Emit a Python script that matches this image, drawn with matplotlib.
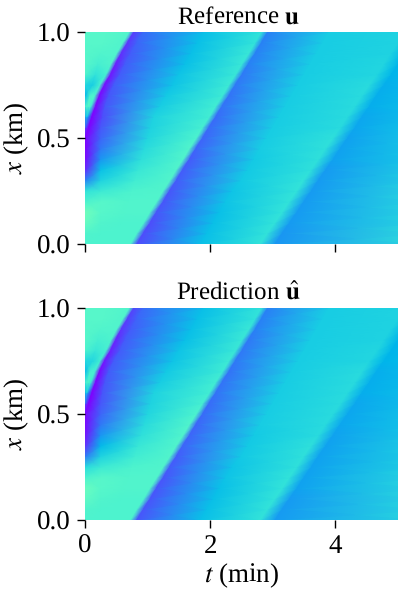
import numpy as np
import matplotlib
matplotlib.use('Agg')
import matplotlib.pyplot as plt

plt.rcParams['font.family'] = ['Liberation Serif', 'DejaVu Serif']
plt.rcParams['mathtext.fontset'] = 'stix'
plt.rcParams['text.hinting'] = 'no_hinting'
plt.rcParams['text.hinting_factor'] = 1

# distance levels (km)
x_levels = [0.00, 0.05, 0.10, 0.15, 0.20, 0.25, 0.30, 0.35, 0.40, 0.45, 0.50,
            0.55, 0.60, 0.65, 0.70, 0.75, 0.80, 0.85, 0.90, 0.95, 1.00]

t_knots = [
    [0, 0, 0, 0, .25, .50, .73, .83, 1.85, 2.80, 3.04, 5.5],
    [0, 0, 0, 0, .25, .55, .83, .93, 1.95, 2.91, 3.15, 5.5],
    [0, 0, 0, 0, .25, .60, .94, 1.04, 2.05, 3.03, 3.27, 5.5],
    [0, 0, 0, 0, .25, .65, 1.04, 1.14, 2.15, 3.15, 3.39, 5.5],
    [0, 0, 0, 0, .25, .70, 1.15, 1.25, 2.25, 3.26, 3.50, 5.5],
    [0, 0, 0, 0, .25, .75, 1.25, 1.35, 2.35, 3.38, 3.62, 5.5],
    [0, 0, 0, 0, .25, .80, 1.36, 1.46, 2.50, 3.49, 3.73, 5.5],
    [0, 0, 0, 0, .25, .85, 1.46, 1.56, 2.60, 3.61, 3.85, 5.5],
    [0, 0, 0, 0, .25, .90, 1.57, 1.67, 2.70, 3.73, 3.97, 5.5],
    [0, 0, 0, 0, .25, .95, 1.67, 1.77, 2.80, 3.84, 4.08, 5.5],
    [0, 0, 0, 0, .25, 1.0, 1.78, 1.88, 2.90, 3.96, 4.20, 5.5],
    [0, .01, .02, .06, .25, 1.05, 1.88, 1.98, 3.0, 4.08, 4.32, 5.5],
    [0, .03, .05, .11, .28, 1.1, 1.99, 2.09, 3.1, 4.19, 4.43, 5.5],
    [0, .05, .10, .17, .32, 1.2, 2.09, 2.19, 3.2, 4.31, 4.55, 5.5],
    [0, .08, .16, .23, .38, 1.3, 2.20, 2.30, 3.3, 4.42, 4.66, 5.5],
    [0, .12, .24, .31, .46, 1.4, 2.30, 2.40, 3.4, 4.54, 4.78, 5.5],
    [0, .17, .34, .41, .56, 1.5, 2.41, 2.51, 3.5, 4.66, 4.90, 5.5],
    [0, .21, .42, .49, .64, 1.6, 2.51, 2.61, 3.6, 4.77, 5.01, 5.5],
    [0, .25, .51, .58, .73, 1.7, 2.62, 2.72, 3.7, 4.88, 5.12, 5.5],
    [0, .30, .61, .68, .83, 1.8, 2.72, 2.82, 3.8, 5.0, 5.24, 5.5],
    [0, .35, .71, .78, .93, 1.9, 2.82, 2.92, 3.9, 5.12, 5.36, 5.5],
]

# reference field at those knots
u_ref = [
    [.40, .40, .40, .40, .40, .40, .40, .10, .27, .35, .20, .34],
    [.41, .41, .41, .41, .40, .40, .40, .10, .27, .35, .20, .34],
    [.45, .45, .45, .45, .41, .40, .40, .10, .27, .35, .21, .33],
    [.47, .47, .47, .47, .42, .41, .41, .11, .27, .35, .21, .33],
    [.40, .40, .40, .40, .42, .41, .41, .11, .28, .35, .21, .33],
    [.35, .35, .35, .35, .37, .40, .41, .11, .28, .35, .21, .33],
    [.17, .17, .17, .17, .31, .38, .41, .12, .29, .35, .21, .32],
    [.05, .05, .05, .05, .27, .36, .41, .12, .29, .34, .21, .31],
    [.01, .01, .01, .01, .20, .34, .41, .12, .29, .34, .22, .30],
    [.00, .00, .00, .00, .16, .33, .41, .13, .30, .34, .22, .30],
    [.00, .00, .00, .00, .13, .32, .40, .13, .30, .34, .22, .30],
    [.10, .10, .08, .00, .11, .31, .39, .14, .30, .33, .23, .29],
    [.22, .28, .20, .00, .10, .31, .38, .14, .30, .33, .23, .28],
    [.38, .42, .38, .01, .11, .30, .38, .15, .30, .33, .24, .28],
    [.25, .40, .40, .01, .11, .29, .37, .15, .30, .33, .24, .27],
    [.32, .30, .39, .02, .12, .28, .37, .16, .30, .33, .24, .27],
    [.41, .35, .39, .03, .12, .28, .36, .16, .30, .32, .25, .27],
    [.42, .39, .41, .04, .12, .27, .36, .17, .30, .32, .25, .27],
    [.42, .41, .41, .06, .12, .27, .36, .17, .30, .31, .25, .26],
    [.42, .42, .41, .07, .13, .27, .35, .17, .30, .31, .25, .26],
    [.42, .42, .41, .08, .14, .27, .35, .17, .30, .31, .26, .26],
]

# predicted field at the same knots
u_pred = [
    [.40, .40, .40, .40, .40, .40, .40, .11, .27, .35, .21, .33],
    [.41, .41, .41, .41, .40, .40, .40, .11, .27, .35, .21, .33],
    [.44, .44, .44, .44, .41, .40, .40, .11, .27, .35, .21, .33],
    [.46, .46, .46, .46, .42, .41, .41, .11, .27, .35, .22, .33],
    [.40, .40, .40, .40, .42, .41, .41, .11, .28, .35, .22, .33],
    [.33, .33, .33, .33, .37, .40, .41, .12, .28, .34, .22, .32],
    [.16, .16, .16, .16, .31, .38, .41, .12, .29, .34, .22, .31],
    [.06, .06, .06, .06, .26, .36, .41, .13, .29, .34, .22, .31],
    [.02, .02, .02, .02, .20, .34, .41, .13, .29, .33, .22, .30],
    [.01, .01, .01, .01, .16, .33, .41, .13, .30, .33, .23, .29],
    [.01, .01, .01, .01, .13, .32, .40, .14, .30, .33, .23, .29],
    [.12, .12, .08, .00, .11, .31, .39, .14, .30, .33, .23, .28],
    [.25, .30, .20, .00, .11, .31, .38, .15, .30, .33, .24, .28],
    [.38, .41, .37, .01, .11, .30, .38, .15, .30, .33, .24, .27],
    [.26, .39, .39, .01, .12, .29, .37, .15, .30, .33, .24, .27],
    [.32, .32, .38, .03, .12, .28, .37, .16, .30, .32, .25, .27],
    [.40, .36, .39, .04, .12, .28, .36, .16, .30, .32, .25, .27],
    [.42, .39, .40, .05, .12, .27, .36, .16, .30, .31, .25, .27],
    [.42, .41, .41, .07, .12, .27, .36, .17, .30, .31, .25, .26],
    [.42, .42, .41, .08, .13, .27, .35, .17, .30, .31, .25, .26],
    [.42, .42, .41, .09, .14, .27, .35, .17, .30, .31, .26, .26],
]

titles = [r'Reference $\mathbf{u}$', r'Prediction $\hat{\mathbf{u}}$']
fields = [u_ref, u_pred]
t_ticks = [0, 2, 4]
x_ticks = [0.0, 0.5, 1.0]

T = np.array(t_knots)
X = np.repeat(np.array(x_levels)[:, None], T.shape[1], axis=1)

fig = plt.figure(figsize=(3.98, 5.95), dpi=100)
ax_top = fig.add_axes([85/398, 1 - 244/595, 313/398, 212/595])
ax_bot = fig.add_axes([85/398, 1 - 520/595, 313/398, 212/595])

for ax, field, title in zip([ax_top, ax_bot], fields, titles):
    ax.pcolormesh(T, X, np.array(field), shading='gouraud', cmap='rainbow',
                  vmin=0, vmax=1, rasterized=True)
    ax.set_xlim(0, 5)
    ax.set_ylim(0, 1)
    ax.set_xticks(t_ticks)
    ax.set_yticks(x_ticks)
    ax.set_yticklabels(['0.0', '0.5', '1.0'])
    ax.tick_params(length=5.8, width=1.0, labelsize=19.5, pad=4.5)
    for side in ax.spines:
        ax.spines[side].set_visible(False)
    ax.set_ylabel(r'$x$ (km)', fontsize=19.5, labelpad=4)
    ax.set_title(title, fontsize=18.2, pad=6, x=0.49)

ax_top.set_xticklabels([])
ax_bot.set_xlabel(r'$t$ (min)', fontsize=19.5, labelpad=2)

fig.savefig('out.png', dpi=100)
